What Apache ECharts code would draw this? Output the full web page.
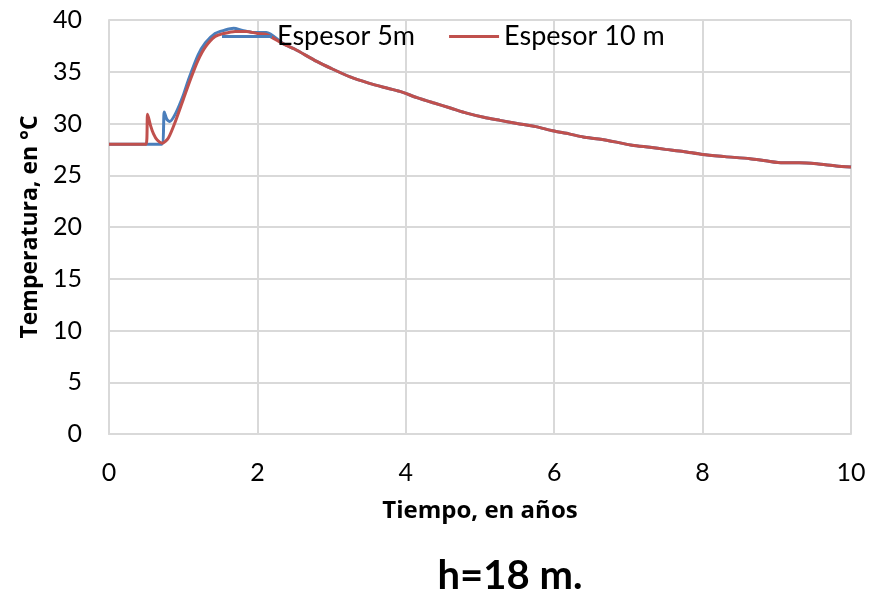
<!DOCTYPE html>
<html>
<head>
<meta charset="utf-8">
<script src="https://cdn.jsdelivr.net/npm/echarts@6/dist/echarts.min.js"></script>
<style>
  html, body { margin: 0; padding: 0; background: #ffffff; }
  #chart { width: 870px; height: 595px; }
</style>
</head>
<body>
<div id="chart"></div>
<script>
// Tiempo (años) y temperatura (°C) para cada espesor
const tiempo5 = [0, 0.4, 0.71, 0.745, 0.78, 0.82, 0.9, 1.0, 1.07, 1.2, 1.3, 1.43, 1.55, 1.68, 1.8, 1.95, 2.12,
  2.35, 2.5, 2.8, 3.0, 3.25, 3.5, 3.7, 3.92, 4.15, 4.37, 4.6, 4.82, 5.05, 5.27, 5.5, 5.75, 5.98,
  6.2, 6.39, 6.6, 6.84, 7.05, 7.29, 7.5, 7.74, 8.0, 8.3, 8.64, 8.85, 9.08, 9.3, 9.54, 9.8, 10.0];
const temp5 = [28, 28, 28, 31.1, 30.4, 30.2, 31.0, 32.7, 34.2, 36.6, 37.8, 38.7, 39.0, 39.2, 39.0, 38.8, 38.8,
  37.7, 37.2, 36.0, 35.3, 34.5, 33.9, 33.5, 33.1, 32.5, 32.0, 31.5, 31.0, 30.6, 30.3, 30.0, 29.7, 29.3,
  29.0, 28.7, 28.5, 28.2, 27.9, 27.7, 27.5, 27.3, 27.0, 26.8, 26.6, 26.4, 26.2, 26.2, 26.1, 25.9, 25.8];

const tiempo10 = [0, 0.3, 0.5, 0.52, 0.56, 0.6, 0.65, 0.72, 0.8, 0.9, 1.0, 1.1, 1.2, 1.3, 1.43, 1.55, 1.7, 1.85, 2.0, 2.12,
  2.35, 2.5, 2.8, 3.0, 3.25, 3.5, 3.7, 3.92, 4.15, 4.37, 4.6, 4.82, 5.05, 5.27, 5.5, 5.75, 5.98,
  6.2, 6.39, 6.6, 6.84, 7.05, 7.29, 7.5, 7.74, 8.0, 8.3, 8.64, 8.85, 9.08, 9.3, 9.54, 9.8, 10.0];
const temp10 = [28, 28, 28, 30.9, 29.8, 29.0, 28.4, 28.1, 28.6, 30.3, 32.3, 34.3, 36.1, 37.4, 38.4, 38.7, 38.9, 38.9, 38.7, 38.6,
  37.7, 37.2, 36.0, 35.3, 34.5, 33.9, 33.5, 33.1, 32.5, 32.0, 31.5, 31.0, 30.6, 30.3, 30.0, 29.7, 29.3,
  29.0, 28.7, 28.5, 28.2, 27.9, 27.7, 27.5, 27.3, 27.0, 26.8, 26.6, 26.4, 26.2, 26.2, 26.1, 25.9, 25.8];

const nombres = ['Espesor 5m', 'Espesor 10 m'];
const colores = ['#4a7ebb', '#c0504d'];

const pares = (xs, ys) => xs.map((x, i) => [x, ys[i]]);

const FONT = 'Lato, "Liberation Sans", sans-serif';
const FONT_BOLD = '"Open Sans", Lato, sans-serif';
const GRID_COLOR = '#d9d9d9';

const chart = echarts.init(document.getElementById('chart'), null, { renderer: 'canvas' });

chart.setOption({
  animation: false,
  backgroundColor: '#ffffff',
  textStyle: { fontFamily: FONT },
  grid: { left: 109, right: 19, top: 20, bottom: 161, containLabel: false },
  legend: {
    left: 217,
    top: 18,
    itemWidth: 50,
    itemHeight: 3,
    itemGap: 34,
    icon: 'rect',
    data: nombres,
    textStyle: { fontFamily: FONT, fontSize: 27, color: '#000000', padding: [0, 0, 0, 0] }
  },
  title: {
    text: 'h=18 m.',
    left: 505,
    top: 551,
    textAlign: 'center',
    textStyle: { fontFamily: FONT, fontSize: 40, fontWeight: 'bold', color: '#000000' }
  },
  xAxis: {
    type: 'value',
    min: 0,
    max: 10,
    interval: 2,
    name: 'Tiempo, en años',
    nameLocation: 'middle',
    nameGap: 65,
    nameTextStyle: { fontFamily: FONT_BOLD, fontSize: 24, fontWeight: 'bold', color: '#000000' },
    axisLine: { show: true, lineStyle: { color: GRID_COLOR, width: 2 } },
    axisTick: { show: false },
    axisLabel: { fontFamily: FONT, fontSize: 25, color: '#000000', margin: 26 },
    splitLine: { show: true, lineStyle: { color: GRID_COLOR, width: 2 } }
  },
  yAxis: {
    type: 'value',
    min: 0,
    max: 40,
    interval: 5,
    name: 'Temperatura, en °C',
    nameLocation: 'middle',
    nameGap: 67,
    nameTextStyle: { fontFamily: FONT_BOLD, fontSize: 23, fontWeight: 'bold', color: '#000000' },
    axisLine: { show: true, lineStyle: { color: GRID_COLOR, width: 2 } },
    axisTick: { show: false },
    axisLabel: { fontFamily: FONT, fontSize: 25, color: '#000000', margin: 27 },
    splitLine: { show: true, lineStyle: { color: GRID_COLOR, width: 2 } }
  },
  series: [
    {
      name: nombres[0],
      type: 'line',
      data: pares(tiempo5, temp5),
      showSymbol: false,
      smooth: 0.25,
      lineStyle: { color: colores[0], width: 3 },
      itemStyle: { color: colores[0] },
      z: 2
    },
    {
      name: nombres[1],
      type: 'line',
      data: pares(tiempo10, temp10),
      showSymbol: false,
      smooth: 0.25,
      lineStyle: { color: colores[1], width: 3 },
      itemStyle: { color: colores[1] },
      z: 3
    }
  ]
});
</script>
</body>
</html>
